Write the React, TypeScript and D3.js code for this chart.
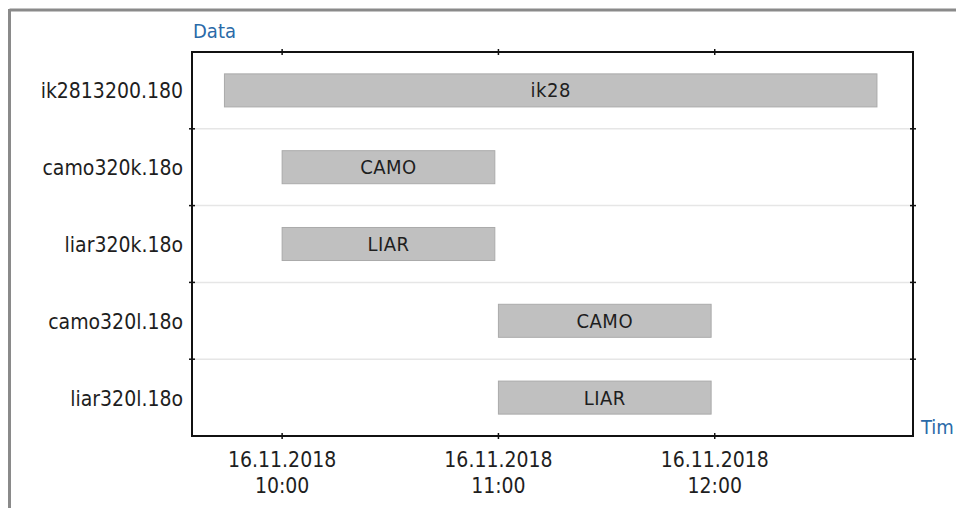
import * as d3 from "d3";

// files (rows) and their tasks
const files = ["ik2813200.180", "camo320k.18o", "liar320k.18o", "camo320l.18o", "liar320l.18o"];
const tasks = ["ik28", "CAMO", "LIAR", "CAMO", "LIAR"];
const starts = ["09:44", "10:00", "10:00", "11:00", "11:00"];
const ends = ["12:45", "10:59", "10:59", "11:59", "11:59"];
const tickTimes = ["10:00", "11:00", "12:00"];
const domainTimes = ["09:35", "12:55"];

const parse = (s: string) => {
  const [h, m] = s.split(":").map(Number);
  return new Date(2018, 10, 16, h, m);
};

const W = 956;
const H = 508;
const left = 192;
const right = 913;
const top = 52;
const bottom = 436;
const FONT = "'DejaVu Sans Condensed', 'DejaVu Sans', sans-serif";

const App = () => {
  const x = d3
    .scaleTime()
    .domain(domainTimes.map(parse) as [Date, Date])
    .range([left, right]);
  const y = d3.scaleBand().domain(files).range([top, bottom]).padding(0);
  const barH = y.bandwidth() * 0.43;
  const ticks = tickTimes.map(parse);
  const fmtDate = d3.timeFormat("%d.%m.%Y");
  const fmtHour = d3.timeFormat("%H:%M");
  const bounds = files.slice(1).map((f) => y(f)!);

  return (
    <svg
      width={W}
      height={H}
      style={{ position: "absolute", left: 0, top: 0, background: "#fff" }}
      fontFamily={FONT}
    >
      {/* outer frame */}
      <line x1={9.5} x2={W} y1={10} y2={10} stroke="#8a8a8a" strokeWidth={3} />
      <line x1={9.5} x2={9.5} y1={9} y2={H} stroke="#8a8a8a" strokeWidth={3} />

      {/* grid lines between rows */}
      {bounds.map((b, i) => (
        <line key={i} x1={left} x2={right} y1={b} y2={b} stroke="#e6e6e6" strokeWidth={1.5} />
      ))}

      {/* bars */}
      {files.map((f, i) => {
        const x0 = x(parse(starts[i]));
        const x1 = x(parse(ends[i]));
        const cy = y(f)! + y.bandwidth() / 2;
        return (
          <g key={f}>
            <rect
              x={x0}
              y={cy - barH / 2}
              width={x1 - x0}
              height={barH}
              fill="#c0c0c0"
              stroke="#aaaaaa"
              strokeWidth={1}
            />
            <text
              x={(x0 + x1) / 2}
              y={cy + 7}
              textAnchor="middle"
              fontSize={20}
              fill="#1e1e1e"
              letterSpacing={0.5}
            >
              {tasks[i]}
            </text>
          </g>
        );
      })}

      {/* plot border */}
      <rect x={left} y={top} width={right - left} height={bottom - top} fill="none" stroke="#111" strokeWidth={2} />

      {/* ticks on x (top and bottom) */}
      {ticks.map((t, i) => (
        <g key={i}>
          <line x1={x(t)} x2={x(t)} y1={top - 3} y2={top + 3} stroke="#111" strokeWidth={1.5} />
          <line x1={x(t)} x2={x(t)} y1={bottom - 3} y2={bottom + 3} stroke="#111" strokeWidth={1.5} />
          <text x={x(t)} y={467} textAnchor="middle" fontSize={21} fill="#1e1e1e">
            {fmtDate(t)}
          </text>
          <text x={x(t)} y={493} textAnchor="middle" fontSize={21} fill="#1e1e1e">
            {fmtHour(t)}
          </text>
        </g>
      ))}

      {/* ticks on y (left and right) */}
      {bounds.map((b, i) => (
        <g key={i}>
          <line x1={left - 3} x2={left + 3} y1={b} y2={b} stroke="#111" strokeWidth={1.5} />
          <line x1={right - 3} x2={right + 3} y1={b} y2={b} stroke="#111" strokeWidth={1.5} />
        </g>
      ))}

      {/* row labels */}
      {files.map((f) => (
        <text
          key={f}
          x={183}
          y={y(f)! + y.bandwidth() / 2 + 8}
          textAnchor="end"
          fontSize={21}
          fill="#1e1e1e"
        >
          {f}
        </text>
      ))}

      {/* axis titles */}
      <text x={193} y={38} fontSize={20} fill="#2a6aa8">
        Data
      </text>
      <text x={921} y={434} fontSize={20} fill="#2a6aa8">
        Tim
      </text>
    </svg>
  );
};

export default App;
